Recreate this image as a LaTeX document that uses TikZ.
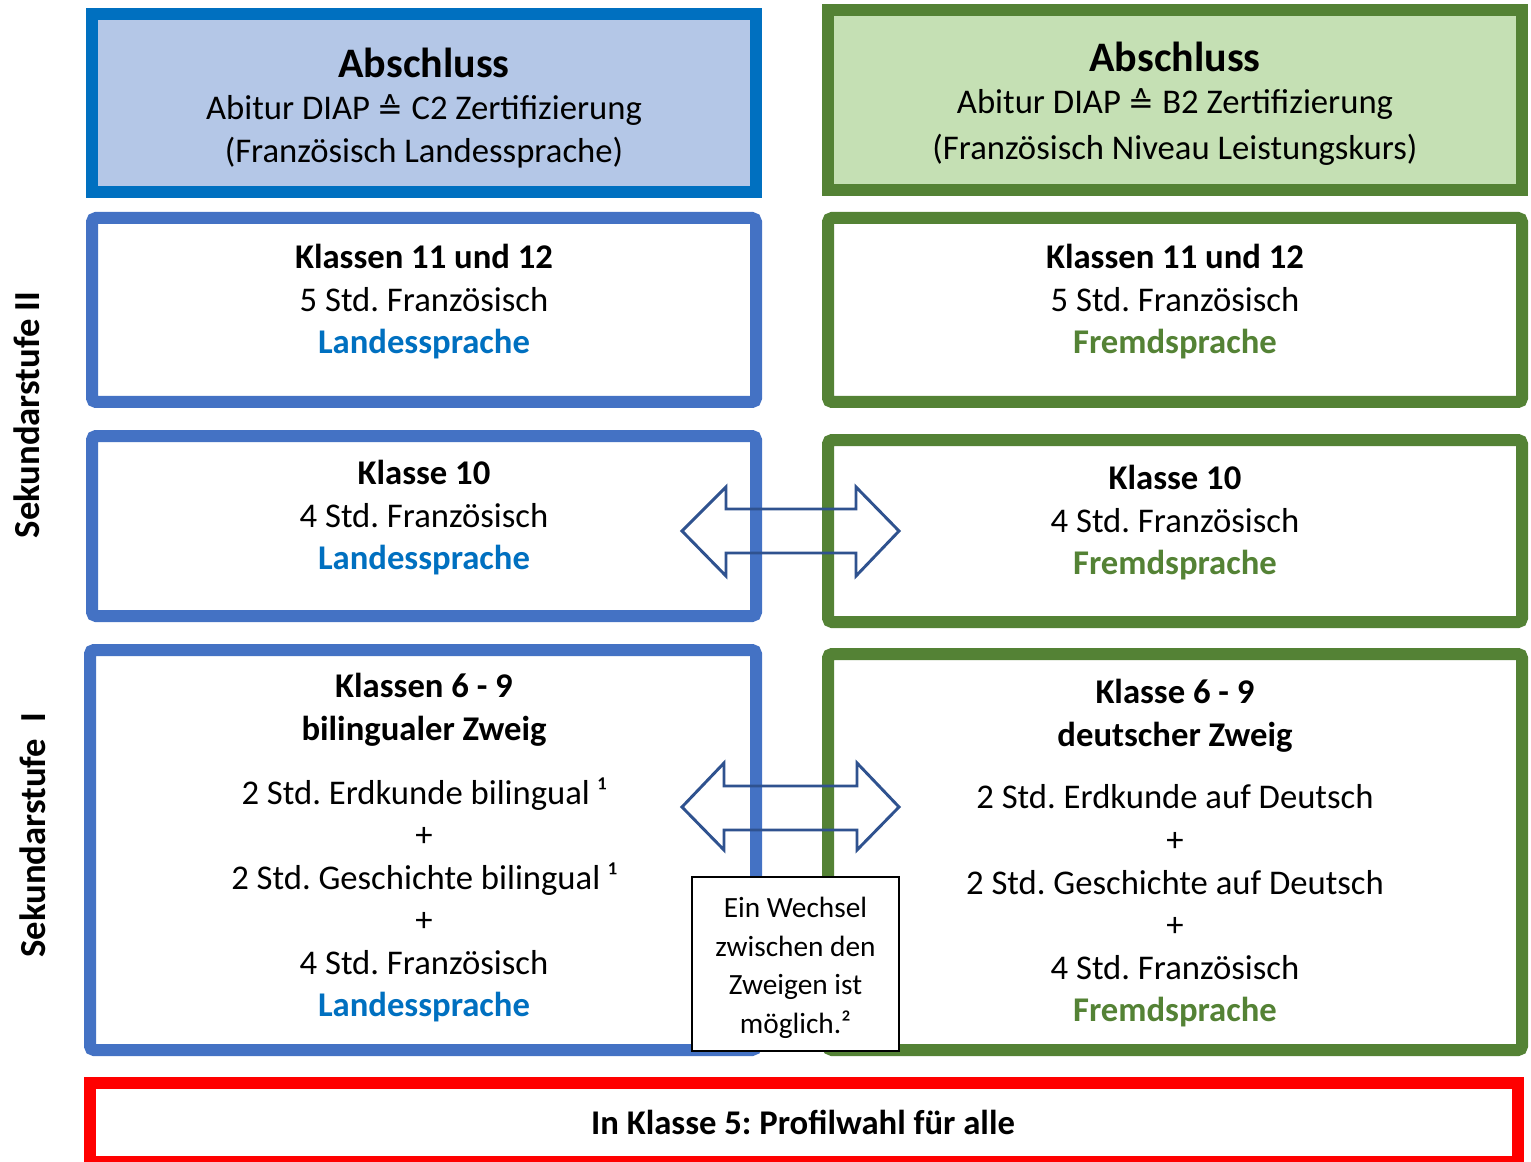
\documentclass[tikz,border=0pt]{standalone}
\usepackage{fontspec}
\setmainfont{Carlito}
\newfontfamily\djv{DejaVu Sans}
\usetikzlibrary{fit}
\definecolor{absblue}{HTML}{0070C0}
\definecolor{absbluefill}{HTML}{B4C7E7}
\definecolor{boxblue}{HTML}{4472C4}
\definecolor{boxgreen}{HTML}{548235}
\definecolor{absgreenfill}{HTML}{C5E0B4}
\definecolor{txtblue}{HTML}{0070C0}
\definecolor{txtgreen}{HTML}{548235}
\definecolor{arrblue}{HTML}{2F528F}
\definecolor{redbox}{HTML}{FF0000}
\newcommand{\corr}{{\djv\fontsize{23}{23}\selectfont ≙}}
\frenchspacing
\begin{document}
\frenchspacing
\begin{tikzpicture}[x=0.75pt,y=-0.75pt,
  frame/.style={inner sep=0pt, line width=9pt},
  absB/.style={frame, draw=absblue, fill=absbluefill},
  absG/.style={frame, draw=boxgreen, fill=absgreenfill},
  boxB/.style={frame, draw=boxblue, fill=white, rounded corners=3pt},
  boxG/.style={frame, draw=boxgreen, fill=white, rounded corners=3pt},
  boxR/.style={frame, draw=redbox, fill=white},
  body/.style={font=\fontsize{26}{31.9}\selectfont\frenchspacing, align=center, inner sep=0pt},
  head/.style={font=\fontsize{31.5}{36}\selectfont\bfseries, inner sep=0pt},
  side/.style={font=\fontsize{27.5}{32}\selectfont\bfseries, rotate=90, inner sep=0pt},
  note/.style={font=\fontsize{22}{28.9}\selectfont\frenchspacing, align=center, inner sep=0pt},
  dbl/.style={draw=arrblue, line width=2.2pt, line join=miter},
]
\useasboundingbox (0,0) rectangle (1531,1162);
% boxes
\node[absB, fit={(92,14) (756,192)}] (absL) {};
\node[absG, fit={(828,10) (1522,190)}] (absR) {};
\node[boxB, fit={(92,218) (756,402)}] (k12L) {};
\node[boxG, fit={(828,218) (1522,402)}] (k12R) {};
\node[boxB, fit={(92,436) (756,616)}] (k10L) {};
\node[boxG, fit={(828,440) (1522,622)}] (k10R) {};
\node[boxB, fit={(90,650) (756,1050)}] (k69L) {};
\node[boxG, fit={(828,654) (1522,1050)}] (k69R) {};
\node[boxR, fit={(90,1083) (1518,1162)}] (k5) {};
% texts
\node[head] (tAbsL) at (424,63) {Abschluss};
\node[body] (tAbsL2) at (424,131.5) {Abitur DIAP \corr{} C2 Zertifizierung\\(Französisch Landessprache)};
\node[head] (tAbsR) at (1175,57) {Abschluss};
\node[body, font=\fontsize{26}{34.5}\selectfont] (tAbsR2) at (1175,127) {Abitur DIAP \corr{} B2 Zertifizierung\\(Französisch Niveau Leistungskurs)};
\node[body] (t12L) at (424,302) {\textbf{Klassen 11 und 12}\\5 Std. Französisch\\\textcolor{txtblue}{\textbf{Landessprache}}};
\node[body] (t12R) at (1175,302) {\textbf{Klassen 11 und 12}\\5 Std. Französisch\\\textcolor{txtgreen}{\textbf{Fremdsprache}}};
\node[body] (t10L) at (424,518) {\textbf{Klasse 10}\\4 Std. Französisch\\\textcolor{txtblue}{\textbf{Landessprache}}};
\node[body] (t10R) at (1175,523) {\textbf{Klasse 10}\\4 Std. Französisch\\\textcolor{txtgreen}{\textbf{Fremdsprache}}};
\node[body, font=\fontsize{26}{31.9}\selectfont\bfseries] (t69Lh) at (424,710) {Klassen 6 - 9\\bilingualer Zweig};
\node[body] (t69Lb) at (424,900) {2 Std. Erdkunde bilingual ¹\\+\\2 Std. Geschichte bilingual ¹\\+\\4 Std. Französisch\\\textcolor{txtblue}{\textbf{Landessprache}}};
\node[body, font=\fontsize{26}{31.9}\selectfont\bfseries] (t69Rh) at (1175,716) {Klasse 6 - 9\\deutscher Zweig};
\node[body] (t69Rb) at (1175,906) {2 Std. Erdkunde auf Deutsch\\+\\2 Std. Geschichte auf Deutsch\\+\\4 Std. Französisch\\\textcolor{txtgreen}{\textbf{Fremdsprache}}};
\node[body, font=\fontsize{26}{31.9}\selectfont\bfseries] (t5) at (803,1122) {In Klasse 5: Profilwahl für alle};
% side labels
\node[side] (s2) at (27,415) {Sekundarstufe II};
\node[side] (s1) at (33,835) {Sekundarstufe\ \ I};
% double arrows
\draw[dbl] (682,531) -- (726,487) -- (726,509) -- (856,509) -- (856,487) -- (899,531) -- (856,576) -- (856,553) -- (726,553) -- (726,576) -- cycle;
\draw[dbl] (682,807) -- (724,763) -- (724,786) -- (857,786) -- (857,763) -- (899,807) -- (857,850) -- (857,830) -- (724,830) -- (724,850) -- cycle;
% note box
\node[draw=black, fill=white, line width=1.5pt, inner sep=0pt, fit={(692,877) (899,1051)}] (noteb) {};
\node[note] (notet) at ([yshift=-3pt]noteb.center) {Ein Wechsel\\zwischen den\\Zweigen ist\\möglich.²};
\end{tikzpicture}
\end{document}
